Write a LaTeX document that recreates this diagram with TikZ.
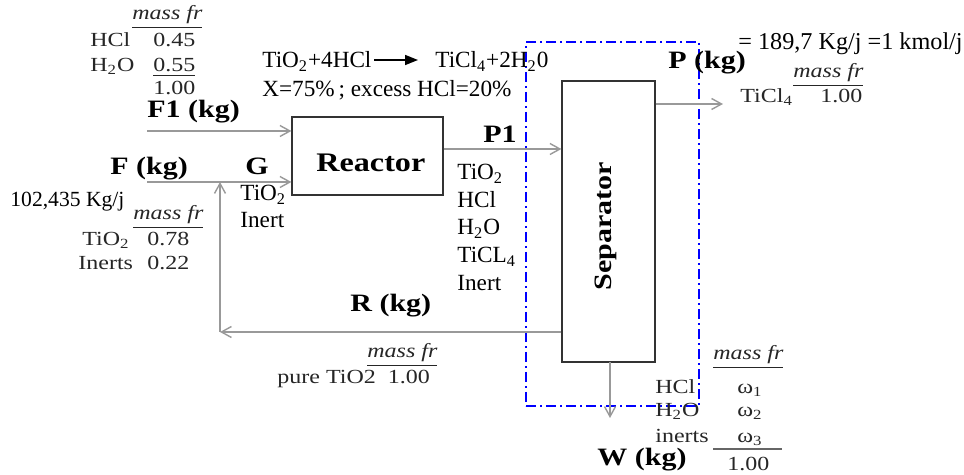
\documentclass[tikz,border=0pt]{standalone}
\usepackage{fontspec}
\setmainfont{Liberation Serif}
\newfontfamily\tabfont[FakeStretch=1.2]{Liberation Serif}
\newfontfamily\lblfont[FakeStretch=1.2]{Liberation Serif}
\usetikzlibrary{arrows.meta}
\tikzset{
  main/.style={inner sep=0pt, anchor=base west, font=\fontsize{11.6}{13}\selectfont},
  tab/.style={inner sep=0pt, anchor=base west, text=black!85, font=\tabfont\fontsize{10}{12}\selectfont},
  lbl/.style={inner sep=0pt, anchor=base west, font=\lblfont\bfseries\fontsize{12.5}{14}\selectfont},
  unitbox/.style={draw=black!80, line width=0.6pt, inner sep=0pt},
  flow/.style={draw=black!40, line width=0.7pt, -{Straight Barb[length=5pt,width=5.5pt]}},
  bound/.style={draw=blue, line width=0.7pt, dash pattern=on 5pt off 2pt on 1pt off 2pt, inner sep=0pt},
}
\begin{document}
\begin{tikzpicture}[x=0.5pt,y=-0.5pt]
\useasboundingbox (0,0) rectangle (964,475);

% units
\node[unitbox, minimum width=75.5pt, minimum height=39pt] (reactor) at (367.5,156) {};
\node[lbl, font=\lblfont\bfseries\fontsize{13.4}{15}\selectfont] (reactorlbl) at (316,172) {Reactor};
\node[unitbox, minimum width=46.5pt, minimum height=140.5pt] (sep) at (608.5,221.5) {};
\node[inner sep=0pt, rotate=90, font=\lblfont\bfseries\fontsize{12.5}{14}\selectfont] (seplbl) at (606,226) {Separator};
\node[bound, minimum width=86.5pt, minimum height=182pt] (boundary) at (612.5,224) {};

% stream end points
\coordinate (f1s) at (147,131);
\coordinate (fs) at (147,182);
\coordinate (gm) at (220,182);
\coordinate (rc) at (220,332);
\coordinate (p1y) at (0,149);
\coordinate (ry) at (0,332);
\coordinate (pc) at (723,104);
\coordinate (wc) at (610,418);
\coordinate (wt) at (610,362);

% streams
\draw[flow] (f1s) -- (reactor.west |- f1s);
\draw[flow] (fs) -- (reactor.west |- fs);
\draw[flow] (reactor.east |- p1y) -- (sep.west |- p1y);
\draw[flow] (sep.east |- pc) -- (pc);
\draw[flow] (sep.west |- ry) -- (rc);
\draw[flow] (rc) -- (gm);
\draw[flow] (wt) -- (wc);

% reaction
\node[main] (rx1) at (262,68) {TiO\textsubscript{2}+4HCl};
\node[main] (rx2) at (435,68) {TiCl\textsubscript{4}+2H\textsubscript{2}0};
\coordinate (rxa) at (374,60);
\coordinate (rxb) at (418,60);
\draw[line width=0.8pt, -{Triangle[length=6.5pt,width=5pt]}] (rxa) -- (rxb);
\node[main] (rxc) at (262,97) {X=75\%\,; excess HCl=20\%};

% F1 composition
\node[tab] (mf1) at (132,20) {\textit{\underline{mass fr}}};
\node[tab] (f1a) at (90,47) {HCl};
\node[tab] (f1b) at (153,47) {0.45};
\node[tab] (f1c) at (90,72) {H\textsubscript{2}O};
\node[tab] (f1d) at (153,72) {\underline{0.55}};
\node[tab] (f1e) at (153,95) {1.00};
\node[lbl] (f1l) at (147,118) {F1 (kg)};

% F composition
\node[lbl] (fl) at (110,175) {F (kg)};
\node[lbl] (gl) at (245,175) {G};
\node[main, font=\fontsize{10.8}{12}\selectfont] (fflow) at (10,207) {102,435 Kg/j};
\node[tab] (mf2) at (133,220) {\textit{\underline{mass fr}}};
\node[tab] (fa) at (82,246) {TiO\textsubscript{2}};
\node[tab] (fb) at (147,246) {0.78};
\node[tab] (fc) at (78,270) {Inerts};
\node[tab] (fd) at (147,270) {0.22};

% G composition
\node[main] (ga) at (240,201) {TiO\textsubscript{2}};
\node[main] (gb) at (240,228) {Inert};

% P1
\node[lbl] (p1l) at (483,143) {P1};
\node[main] (p1a) at (457,180) {TiO\textsubscript{2}};
\node[main] (p1b) at (457,208) {HCl};
\node[main] (p1c) at (457,235) {H\textsubscript{2}O};
\node[main] (p1d) at (457,263) {TiCL\textsubscript{4}};
\node[main] (p1e) at (457,291) {Inert};

% P
\node[lbl] (pl) at (668,69) {P (kg)};
\node[main, font=\fontsize{12.1}{14}\selectfont] (pflow) at (738,50) {= 189,7 Kg/j =1 kmol/j};
\node[tab] (mf3) at (793,78) {\textit{\underline{mass fr}}};
\node[tab] (pa) at (740,103) {TiCl\textsubscript{4}};
\node[tab] (pb) at (820,103) {1.00};

% R
\node[lbl] (rl) at (350,312) {R (kg)};
\node[tab] (mf4) at (367,358) {\textit{\underline{mass fr}}};
\node[tab] (ra) at (277,384) {pure TiO2\ \ 1.00};

% W
\node[tab] (mf5) at (713,360) {\textit{\underline{mass fr}}};
\node[tab] (wa) at (655,394) {HCl};
\node[tab] (wb) at (737,394) {ω\textsubscript{1}};
\node[tab] (wc2) at (655,417) {H\textsubscript{2}O};
\node[tab] (wd) at (737,417) {ω\textsubscript{2}};
\node[tab] (we) at (655,443) {inerts};
\node[tab] (wf) at (737,443) {ω\textsubscript{3}};
\coordinate (sumL) at (713,449);
\coordinate (sumR) at (782,449);
\draw[black!60, line width=0.6pt] (sumL) -- (sumR);
\node[tab] (wg) at (727,471) {1.00};
\node[lbl] (wl) at (597,466) {W (kg)};
\end{tikzpicture}
\end{document}
